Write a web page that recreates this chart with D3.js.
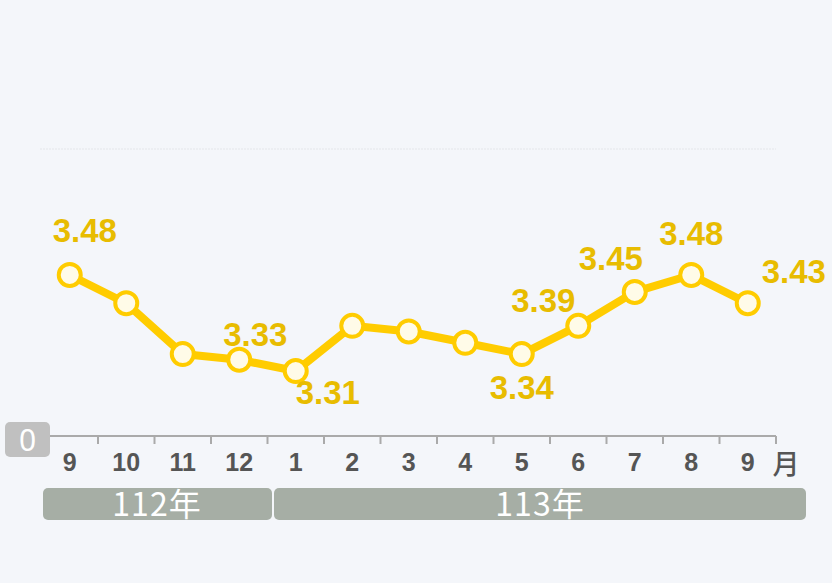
<!DOCTYPE html>
<html>
<head>
<meta charset="utf-8">
<script src="https://cdn.jsdelivr.net/npm/d3@7"></script>
<style>
  html, body { margin: 0; padding: 0; background: #f4f6fa; }
  svg { display: block; font-family: "Liberation Sans", Arial, sans-serif; }
</style>
</head>
<body>
<svg width="832" height="583"></svg>
<script>
const svg = d3.select("svg");
const width = +svg.attr("width");
const height = +svg.attr("height");

const months = ["9", "10", "11", "12", "1", "2", "3", "4", "5", "6", "7", "8", "9"];
const values = [3.48, 3.43, 3.34, 3.33, 3.31, 3.39, 3.38, 3.36, 3.34, 3.39, 3.45, 3.48, 3.43];
// which points carry a label, and where: [dx, dy]
const labelPos = [[15, -33], null, null, [16, -14], [32, 33], null, null, null, [0, 45], [-35, -14], [-24, -22], [0, -30], [46, -20]];
const years = [{ name: "112年", from: 0, to: 3 }, { name: "113年", from: 4, to: 12 }];

const yTop = 149, yBase = 436;

const x = d3.scaleBand()
  .domain(d3.range(months.length))
  .range([41.5, 776]);

const y = d3.scaleLinear()
  .domain([3.195, 3.703])
  .range([yBase, yTop]);

svg.append("rect")
  .attr("width", width)
  .attr("height", height)
  .attr("fill", "#f4f6fa");

// top grid line
svg.append("line")
  .attr("x1", 40).attr("x2", 776)
  .attr("y1", yTop).attr("y2", yTop)
  .attr("stroke", "#e4e6ea")
  .attr("stroke-width", 1)
  .attr("stroke-dasharray", "2,1");

// x axis
const axis = svg.append("g")
  .attr("transform", `translate(0,${yBase})`)
  .call(d3.axisBottom(x).tickSize(0).tickFormat(i => months[i]).tickPadding(17));

axis.select(".domain").remove();
axis.append("line")
  .attr("x1", 48).attr("x2", 776)
  .attr("stroke", "#aaaaaa").attr("stroke-width", 2);

axis.selectAll(".sep")
  .data(d3.range(1, months.length + 1))
  .enter()
  .append("line")
  .attr("class", "sep")
  .attr("x1", i => x(0) + i * x.step())
  .attr("x2", i => x(0) + i * x.step())
  .attr("y1", 0).attr("y2", 8)
  .attr("stroke", "#aaaaaa").attr("stroke-width", 2);

axis.selectAll(".tick text")
  .attr("fill", "#555555")
  .attr("font-size", 25)
  .attr("font-weight", "bold")
  .attr("font-family", "Liberation Sans, Arial, sans-serif");

svg.append("text")
  .attr("x", 786).attr("y", 474)
  .attr("text-anchor", "middle")
  .attr("fill", "#555555")
  .attr("font-size", 27)
  .attr("font-weight", 500)
  .attr("font-family", "Noto Sans CJK TC, sans-serif")
  .text("月");

// zero badge
svg.append("rect")
  .attr("x", 5).attr("y", 422)
  .attr("width", 45).attr("height", 35)
  .attr("rx", 5)
  .attr("fill", "#c0c0c0");
svg.append("text")
  .attr("x", 27.5).attr("y", 451)
  .attr("text-anchor", "middle")
  .attr("fill", "#ffffff")
  .attr("font-size", 30)
  .attr("font-family", "Noto Sans, sans-serif")
  .text("0");

// year bars
const barX0 = d => d.from === 0 ? 43 : x(d.from) + 6.5;
const barX1 = d => d.to === months.length - 1 ? 806 : x(d.to + 1) + 4.5;

const yearG = svg.selectAll(".year")
  .data(years)
  .enter()
  .append("g")
  .attr("class", "year");

yearG.append("rect")
  .attr("x", barX0)
  .attr("width", d => barX1(d) - barX0(d))
  .attr("y", 488).attr("height", 32)
  .attr("rx", 5)
  .attr("fill", "#a6aea5");

yearG.append("text")
  .attr("x", d => d.from === 0 ? 157 : 540)
  .attr("y", 516)
  .attr("text-anchor", "middle")
  .attr("fill", "#ffffff")
  .attr("font-size", 32)
  .attr("letter-spacing", 1)
  .attr("font-family", "Noto Sans CJK TC, sans-serif")
  .text(d => d.name);

// line
const cx = i => x(i) + x.bandwidth() / 2;

svg.append("path")
  .datum(values)
  .attr("fill", "none")
  .attr("stroke", "#ffcc00")
  .attr("stroke-width", 8)
  .attr("stroke-linejoin", "round")
  .attr("d", d3.line().x((d, i) => cx(i)).y(d => y(d)));

svg.selectAll(".pt")
  .data(values)
  .enter()
  .append("circle")
  .attr("class", "pt")
  .attr("cx", (d, i) => cx(i))
  .attr("cy", d => y(d))
  .attr("r", 11)
  .attr("fill", "#fffbe8")
  .attr("stroke", "#ffcc00")
  .attr("stroke-width", 4);

svg.selectAll(".lbl")
  .data(values.map((v, i) => ({ v, i, p: labelPos[i] })).filter(d => d.p))
  .enter()
  .append("text")
  .attr("class", "lbl")
  .attr("x", d => cx(d.i) + d.p[0])
  .attr("y", d => y(d.v) + d.p[1])
  .attr("text-anchor", "middle")
  .attr("fill", "#e8bc00")
  .attr("font-size", 33)
  .attr("font-weight", "bold")
  .text(d => d.v.toFixed(2));
</script>
</body>
</html>
